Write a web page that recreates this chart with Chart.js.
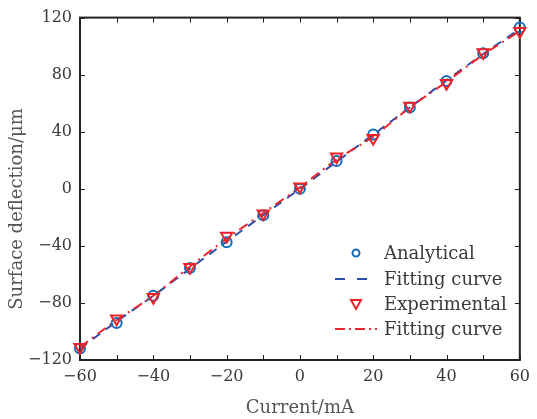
<!DOCTYPE html>
<html>
<head>
<meta charset="utf-8">
<script src="https://cdn.jsdelivr.net/npm/chart.js@4"></script>
<style>
  html, body { margin: 0; padding: 0; background: #fff; }
  #wrap { width: 537px; height: 419px; }
</style>
</head>
<body>
<div id="wrap"><canvas id="chart" width="537" height="419"></canvas></div>
<script>
// values
var currents = [-60, -50, -40, -30, -20, -10, 0, 10, 20, 30, 40, 50, 60];
var analytical = [-112, -94, -75, -55.5, -37.5, -18.5, 0, 19.5, 38, 57, 75.5, 95, 113];
var analyticalFit = [-112, -93, -75, -56, -37, -18.5, 0, 19, 38, 57, 76, 94.5, 112];
var experimental = [-111, -91, -76, -55, -33, -17.5, 1.5, 22.5, 35.5, 58, 74, 95.5, 110.5];
var experimentalFit = [-111, -92, -75, -54.5, -35, -17, 1, 20.5, 36.5, 57, 75, 94, 110.5];
var xTicks = [-60, -40, -20, 0, 20, 40, 60];
var yTicks = [-120, -80, -40, 0, 40, 80, 120];
var legendLabels = ['Analytical', 'Fitting curve', 'Experimental', 'Fitting curve'];
var yTitle = 'Surface deflection/\u03bcm';

var blueMark = 'rgb(20,110,190)';
var blueLine = 'rgb(40,80,170)';
var redMark = 'rgb(235,35,40)';
var redLine = 'rgb(235,40,45)';
var serif = '"DejaVu Serif", "Liberation Serif", serif';
var textColor = '#3a3a3a';

function pts(ys) {
  return currents.map(function (x, i) { return { x: x, y: ys[i] }; });
}

function minus(v) {
  return v < 0 ? '\u2212' + Math.abs(v) : String(v);
}

// frame and inward ticks on all four sides
var framePlugin = {
  id: 'frame',
  beforeDatasetsDraw: function (chart) {
    var ctx = chart.ctx, a = chart.chartArea;
    var xs = chart.scales.x, ys = chart.scales.y;
    ctx.save();
    ctx.strokeStyle = '#222';
    ctx.lineWidth = 1;
    for (var v = -60; v <= 60; v += 10) {
      var px = Math.round(xs.getPixelForValue(v)) + 0.5;
      ctx.beginPath();
      ctx.moveTo(px, a.bottom); ctx.lineTo(px, a.bottom - 5);
      ctx.moveTo(px, a.top); ctx.lineTo(px, a.top + 5);
      ctx.stroke();
    }
    yTicks.forEach(function (v) {
      var py = Math.round(ys.getPixelForValue(v)) + 0.5;
      ctx.beginPath();
      ctx.moveTo(a.left, py); ctx.lineTo(a.left + 5, py);
      ctx.moveTo(a.right, py); ctx.lineTo(a.right - 5, py);
      ctx.stroke();
    });
    ctx.lineWidth = 2;
    ctx.strokeRect(a.left, a.top, a.right - a.left, a.bottom - a.top);

    // y axis title, sits a little below the plot centre as in the original
    ctx.translate(17, 209);
    ctx.rotate(-Math.PI / 2);
    ctx.font = '18px ' + serif;
    ctx.fillStyle = '#555';
    ctx.textAlign = 'center';
    ctx.textBaseline = 'middle';
    ctx.fillText(yTitle, 0, 0);
    ctx.restore();
  }
};

// legend drawn inside the plot, lower right
var legendPlugin = {
  id: 'innerLegend',
  afterDraw: function (chart) {
    var ctx = chart.ctx;
    var x0 = 335, x1 = 377, tx = 384;
    var rows = [253, 279, 304, 329];
    ctx.save();
    ctx.font = '18px ' + serif;
    ctx.fillStyle = textColor;
    ctx.textBaseline = 'middle';
    legendLabels.forEach(function (t, i) { ctx.fillText(t, tx, rows[i] + 1); });

    ctx.lineWidth = 2;
    ctx.strokeStyle = blueMark;
    ctx.beginPath(); ctx.arc(356, rows[0], 3.5, 0, Math.PI * 2); ctx.stroke();

    ctx.strokeStyle = blueLine;
    ctx.setLineDash([10, 12]);
    ctx.beginPath(); ctx.moveTo(x0, rows[1]); ctx.lineTo(x1, rows[1]); ctx.stroke();

    ctx.setLineDash([]);
    ctx.strokeStyle = redMark;
    ctx.beginPath();
    ctx.moveTo(351, rows[2] - 4); ctx.lineTo(361, rows[2] - 4); ctx.lineTo(356, rows[2] + 5);
    ctx.closePath(); ctx.stroke();

    ctx.strokeStyle = redLine;
    ctx.setLineDash([10, 4, 2, 4]);
    ctx.beginPath(); ctx.moveTo(x0, rows[3]); ctx.lineTo(x1, rows[3]); ctx.stroke();
    ctx.restore();
  }
};

new Chart(document.getElementById('chart'), {
  type: 'scatter',
  data: {
    datasets: [{
      label: 'Analytical',
      data: pts(analytical),
      showLine: false,
      pointStyle: 'circle',
      pointRadius: 5,
      pointBorderWidth: 2,
      pointBorderColor: blueMark,
      pointBackgroundColor: 'rgba(0,0,0,0)',
      clip: false,
      order: 2
    }, {
      label: 'Fitting curve',
      data: pts(analyticalFit),
      showLine: true,
      borderColor: blueLine,
      borderWidth: 2,
      borderDash: [9, 7],
      tension: 0.3,
      pointRadius: 0,
      clip: false,
      order: 4
    }, {
      label: 'Experimental',
      data: pts(experimental),
      showLine: false,
      pointStyle: 'triangle',
      rotation: 180,
      pointRadius: 6.5,
      pointBorderWidth: 2,
      pointBorderColor: redMark,
      pointBackgroundColor: 'rgba(0,0,0,0)',
      clip: false,
      order: 1
    }, {
      label: 'Fitting curve',
      data: pts(experimentalFit),
      showLine: true,
      borderColor: redLine,
      borderWidth: 2,
      borderDash: [10, 5, 2, 5],
      tension: 0.3,
      pointRadius: 0,
      clip: false,
      order: 3
    }]
  },
  options: {
    responsive: false,
    animation: false,
    layout: { padding: { top: 13, right: 9, left: 0, bottom: 0 } },
    plugins: {
      legend: { display: false },
      tooltip: { enabled: false }
    },
    scales: {
      x: {
        type: 'linear',
        min: -60,
        max: 60,
        afterBuildTicks: function (s) { s.ticks = xTicks.map(function (v) { return { value: v }; }); },
        afterFit: function (s) { s.height = 59; },
        grid: { display: false, drawTicks: false },
        border: { display: false },
        ticks: {
          padding: 7,
          color: textColor,
          font: { family: serif, size: 16 },
          maxRotation: 0,
          callback: function (v) { return minus(v); }
        },
        title: {
          display: true,
          text: 'Current/mA',
          color: '#555',
          font: { family: serif, size: 18 },
          padding: { top: 2, bottom: 0 }
        }
      },
      y: {
        min: -120,
        max: 120,
        afterBuildTicks: function (s) { s.ticks = yTicks.map(function (v) { return { value: v }; }); },
        afterFit: function (s) { s.width = 80; },
        grid: { display: false, drawTicks: false },
        border: { display: false },
        ticks: {
          padding: 8,
          color: textColor,
          font: { family: serif, size: 16 },
          callback: function (v) { return minus(v); }
        },
        title: { display: false }
      }
    }
  },
  plugins: [framePlugin, legendPlugin]
});
</script>
</body>
</html>
